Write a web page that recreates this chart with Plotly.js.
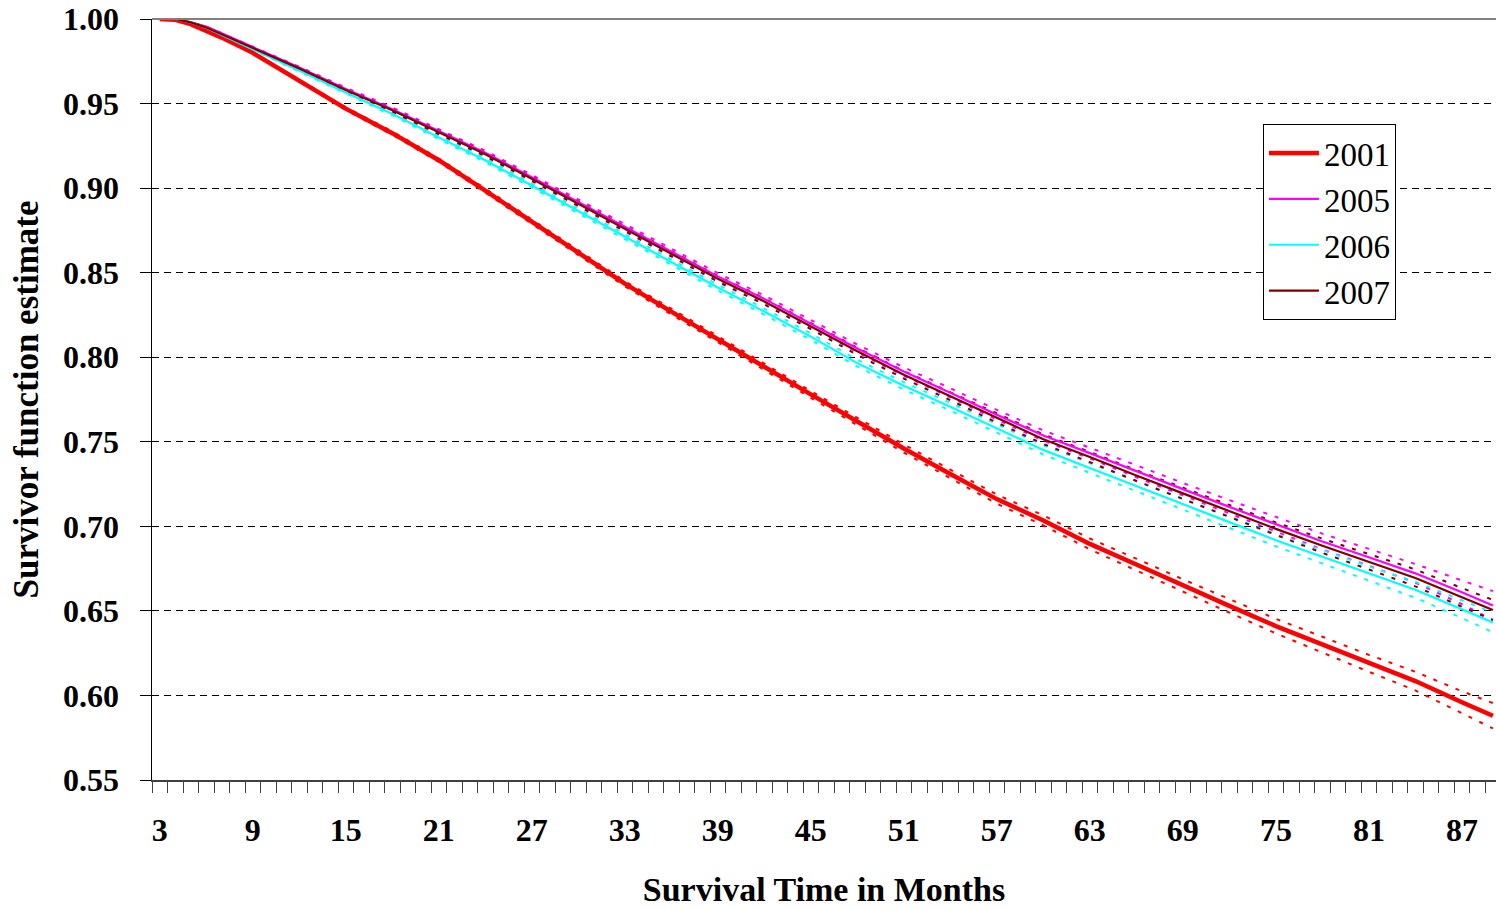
<!DOCTYPE html>
<html>
<head>
<meta charset="utf-8">
<script src="https://cdn.plot.ly/plotly-3.0.1.min.js"></script>
<style>html,body{margin:0;padding:0;background:#fff;overflow:hidden}#chart{width:1496px;height:910px}</style>
</head>
<body>
<div id="chart"></div>
<script>
// Survival time (months) at which values were read
const months = [3,4,5,6,7,9,12,15,18,21,24,27,30,33,36,39,42,45,48,51,54,57,60,63,66,69,72,75,78,81,84,87,89];
const xTickLabels = [3,9,15,21,27,33,39,45,51,57,63,69,75,81,87];

// 2001
const s2001    = [1.000,0.9995,0.997,0.993,0.989,0.980,0.9635,0.947,0.9325,0.9165,0.8985,0.880,0.8616,0.8435,0.827,0.8106,0.794,0.778,0.762,0.746,0.731,0.7161,0.7035,0.6896,0.6774,0.665,0.653,0.641,0.630,0.619,0.6085,0.596,0.588];
const s2001Hi  = [1.000,0.9995,0.997,0.993,0.989,0.9803,0.964,0.9478,0.9335,0.9175,0.8997,0.8813,0.863,0.845,0.8287,0.8124,0.796,0.780,0.7642,0.7484,0.7335,0.7188,0.7065,0.6928,0.6809,0.6687,0.657,0.6453,0.6347,0.624,0.614,0.6025,0.5955];
const s2001Lo  = [1.000,0.9995,0.997,0.993,0.989,0.9797,0.963,0.9462,0.9315,0.9155,0.8973,0.8787,0.8602,0.842,0.8253,0.8088,0.792,0.776,0.7598,0.7436,0.7285,0.7134,0.7005,0.6864,0.6739,0.6613,0.649,0.6367,0.6253,0.614,0.603,0.5895,0.5805];

// 2005
const s2005    = [1.000,1.000,0.998,0.9955,0.9915,0.9834,0.9713,0.9586,0.9467,0.9338,0.9209,0.9065,0.8918,0.8772,0.8626,0.8478,0.8345,0.8201,0.8052,0.7915,0.779,0.766,0.7537,0.7433,0.7325,0.722,0.7115,0.7012,0.691,0.6817,0.6722,0.661,0.6532];
const s2005Hi  = [1.000,1.000,0.998,0.9955,0.9915,0.9837,0.9718,0.9594,0.9477,0.9348,0.9221,0.9078,0.8932,0.8788,0.8643,0.8497,0.8365,0.8222,0.8075,0.794,0.7817,0.7689,0.7567,0.7465,0.736,0.7257,0.7155,0.7055,0.6957,0.6867,0.6777,0.668,0.6617];
const s2005Lo  = [1.000,1.000,0.998,0.9955,0.9915,0.9831,0.9708,0.9578,0.9457,0.9328,0.9197,0.9052,0.8904,0.8756,0.8609,0.8459,0.8325,0.818,0.8029,0.789,0.7763,0.7631,0.7507,0.7401,0.729,0.7183,0.7075,0.6969,0.6863,0.6767,0.6667,0.654,0.6447];

// 2006
const s2006    = [1.000,1.000,0.998,0.9948,0.9905,0.9822,0.9695,0.9565,0.944,0.930,0.9165,0.9015,0.8865,0.8715,0.8565,0.8412,0.827,0.8122,0.7965,0.7831,0.7707,0.7578,0.7452,0.7345,0.7237,0.7132,0.7025,0.6918,0.682,0.672,0.6625,0.651,0.6432];
const s2006Hi  = [1.000,1.000,0.998,0.9948,0.9905,0.9825,0.970,0.9572,0.9449,0.931,0.9176,0.9027,0.8878,0.8729,0.858,0.8429,0.8288,0.8141,0.7985,0.7853,0.773,0.7603,0.7479,0.7374,0.7267,0.7164,0.7059,0.6954,0.686,0.6763,0.6672,0.6562,0.649];
const s2006Lo  = [1.000,1.000,0.998,0.9948,0.9905,0.9819,0.969,0.9558,0.9431,0.929,0.9154,0.9003,0.8852,0.8701,0.855,0.8395,0.8252,0.8103,0.7945,0.7809,0.7684,0.7553,0.7425,0.7316,0.7207,0.710,0.6991,0.6882,0.678,0.6677,0.6578,0.6458,0.6374];

// 2007
const s2007    = [1.000,1.000,0.998,0.995,0.991,0.983,0.9708,0.958,0.946,0.933,0.920,0.9055,0.8907,0.876,0.8613,0.8464,0.833,0.8185,0.8035,0.7896,0.777,0.764,0.7515,0.741,0.730,0.7195,0.709,0.6985,0.6885,0.679,0.6695,0.658,0.6505];
const s2007Hi  = [1.000,1.000,0.998,0.995,0.991,0.9833,0.9713,0.9587,0.9469,0.934,0.9211,0.9067,0.892,0.8774,0.8628,0.8481,0.8348,0.8204,0.8056,0.7918,0.7794,0.7666,0.7543,0.744,0.7332,0.7229,0.7126,0.7023,0.6927,0.6835,0.6745,0.6635,0.6565];
const s2007Lo  = [1.000,1.000,0.998,0.995,0.991,0.9827,0.9703,0.9573,0.9451,0.932,0.9189,0.9043,0.8894,0.8746,0.8598,0.8447,0.8312,0.8166,0.8014,0.7874,0.7746,0.7614,0.7487,0.738,0.7268,0.7161,0.7054,0.6947,0.6843,0.6745,0.6645,0.6525,0.6445];

const seriesNames = ['2001','2005','2006','2007'];
const seriesColors = ['#FF0000','#FF00FF','#00FFFF','#800000'];
const seriesWidths = [4.5,2.2,2.2,2.2];
const seriesMain = [s2001,s2005,s2006,s2007];
const seriesHi = [s2001Hi,s2005Hi,s2006Hi,s2007Hi];
const seriesLo = [s2001Lo,s2005Lo,s2006Lo,s2007Lo];

const FONT = '"Liberation Serif", "Times New Roman", serif';
const traces = [];
seriesNames.forEach((nm,i)=>{
  [seriesLo[i], seriesHi[i]].forEach(arr=>{
    traces.push({x:months,y:arr,type:'scatter',mode:'lines',showlegend:false,hoverinfo:'skip',
      line:{color:seriesColors[i],width:2,dash:'4px,8px'}});
  });
});
seriesNames.forEach((nm,i)=>{
  traces.push({x:months,y:seriesMain[i],type:'scatter',mode:'lines',name:nm,
    line:{color:seriesColors[i],width:seriesWidths[i]}});
});

const layout = {
  width:1496,height:910,
  margin:{l:152,r:0,t:19,b:130},
  paper_bgcolor:'#fff',plot_bgcolor:'#fff',
  showlegend:true,
  font:{family:FONT,color:'#000'},
  xaxis:{
    range:[2.5,89.2],
    tickmode:'array',tickvals:xTickLabels,ticktext:xTickLabels.map(String),
    ticks:'',ticklabelstandoff:21,
    tickfont:{family:FONT,size:32,weight:'bold',color:'#000'},
    showgrid:false,zeroline:false,
    showline:true,linecolor:'#404040',linewidth:2,
    minor:{tickmode:'linear',tick0:2.5,dtick:1,ticks:'outside',ticklen:11,tickcolor:'#404040',tickwidth:1,showgrid:false},
    title:{text:'Survival Time in Months',font:{family:FONT,size:34,weight:'bold',color:'#000'},standoff:30}
  },
  yaxis:{
    range:[0.55,1.0],tick0:0.55,dtick:0.05,tickformat:'.2f',
    ticks:'outside',ticklen:11,tickcolor:'#000',tickwidth:1,ticklabelstandoff:14,
    tickfont:{family:FONT,size:32,weight:'bold',color:'#000'},
    showgrid:true,gridcolor:'#000',gridwidth:1,griddash:'7px,5px',
    zeroline:false,showline:true,linecolor:'#000',linewidth:1.5,
    title:{text:'Survivor function estimate',font:{family:FONT,size:35,weight:'bold',color:'#000'},standoff:14}
  },
  legend:{x:0.8266,y:0.862,xanchor:'left',yanchor:'top',bgcolor:'#fff',bordercolor:'#000',borderwidth:1,
    font:{family:FONT,size:33,color:'#000'},itemwidth:50,tracegroupgap:0},
  shapes:[{type:'line',xref:'paper',yref:'paper',x0:0,x1:1,y0:1,y1:1,line:{color:'#808080',width:2}}]
};
Plotly.newPlot('chart',traces,layout,{displayModeBar:false,staticPlot:true});
</script>
</body>
</html>
